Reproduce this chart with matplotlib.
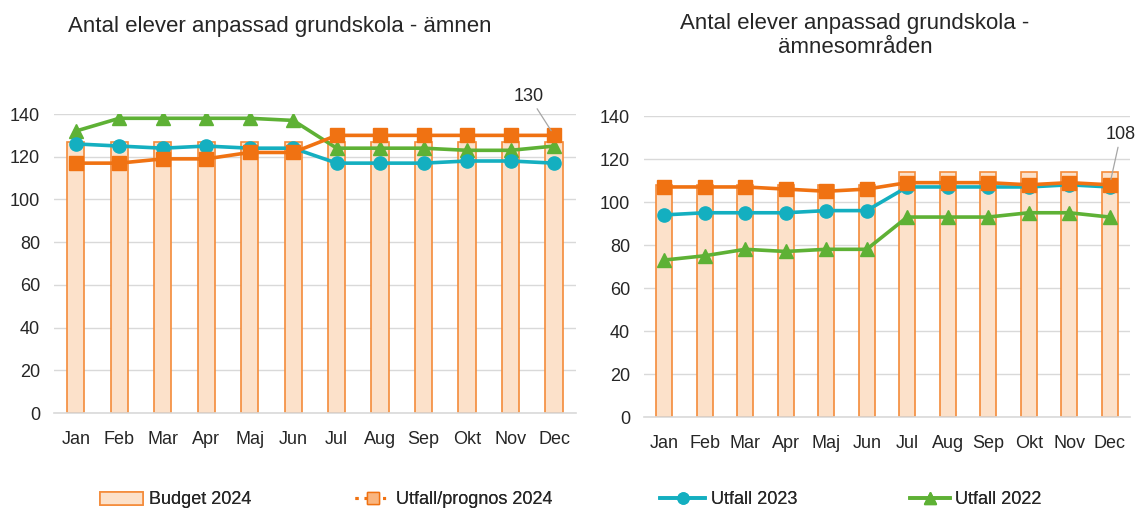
import matplotlib
matplotlib.use("Agg")
import matplotlib.pyplot as plt
from matplotlib.lines import Line2D
from matplotlib.patches import Patch
import numpy as np

plt.rcParams['font.family'] = ['Liberation Sans', 'DejaVu Sans']

months = ["Jan", "Feb", "Mar", "Apr", "Maj", "Jun", "Jul", "Aug", "Sep", "Okt", "Nov", "Dec"]

# Left chart: ämnen
budget_l = [127, 127, 127, 127, 127, 127, 127, 127, 127, 127, 127, 127]
prognos_l = [117, 117, 119, 119, 122, 122, 130, 130, 130, 130, 130, 130]
utfall23_l = [126, 125, 124, 125, 124, 124, 117, 117, 117, 118, 118, 117]
utfall22_l = [132, 138, 138, 138, 138, 137, 124, 124, 124, 123, 123, 125]

# Right chart: ämnesområden
budget_r = [108, 108, 108, 108, 108, 108, 114, 114, 114, 114, 114, 114]
prognos_r = [107, 107, 107, 106, 105, 106, 109, 109, 109, 108, 109, 108]
utfall23_r = [94, 95, 95, 95, 96, 96, 107, 107, 107, 107, 108, 107]
utfall22_r = [73, 75, 78, 77, 78, 78, 93, 93, 93, 95, 95, 93]

yticks = [0, 20, 40, 60, 80, 100, 120, 140]

C_OR = "#F07212"
C_TE = "#14AFC0"
C_GR = "#5EB135"
C_BF = "#FCE1CA"
C_BE = "#F48B3A"
C_GRID = "#D9D9D9"
C_TXT = "#262626"

fig = plt.figure(figsize=(11.37, 5.09), dpi=100)
axL = fig.add_axes([0.0475, 0.1886, 0.459, 0.5874])
axR = fig.add_axes([0.5664, 0.1807, 0.4274, 0.5914])


def draw(ax, budget, prog, u23, u22, label_text, text_off):
    x = np.arange(len(months))
    ax.bar(x, budget, width=0.4, color=C_BF, edgecolor=C_BE, linewidth=1.2, zorder=2)
    ax.plot(x, u22, color=C_GR, lw=2.6, marker="^", ms=9.5, zorder=3)
    ax.plot(x, u23, color=C_TE, lw=2.6, marker="o", ms=9.5, zorder=4)
    ax.plot(x, prog, color=C_OR, lw=2.6, marker="s", ms=9.5, zorder=5)
    ax.set_xlim(-0.5, len(months) - 0.5)
    ax.set_ylim(0, 140)
    ax.set_yticks(yticks)
    ax.set_xticks(x)
    ax.set_xticklabels(months)
    ax.yaxis.grid(True, color=C_GRID, lw=1, zorder=0)
    ax.set_axisbelow(True)
    for s in ["top", "right", "left"]:
        ax.spines[s].set_visible(False)
    ax.spines["bottom"].set_color(C_GRID)
    ax.spines["bottom"].set_linewidth(1.2)
    ax.tick_params(axis="both", length=0, labelsize=13, colors=C_TXT)
    ax.tick_params(axis="x", pad=13)
    ax.tick_params(axis="y", pad=10)
    ax.annotate(str(label_text), xy=(x[-1], prog[-1]), xytext=text_off,
                textcoords="offset points", ha="center", va="bottom",
                fontsize=13, color=C_TXT,
                arrowprops=dict(arrowstyle="-", color="#A6A6A6", lw=0.9,
                                shrinkA=1, shrinkB=4),
                annotation_clip=False, zorder=6)


draw(axL, budget_l, prognos_l, utfall23_l, utfall22_l, prognos_l[-1], (-18, 22))
draw(axR, budget_r, prognos_r, utfall23_r, utfall22_r, prognos_r[-1], (8, 30))

fig.text(0.06, 0.948, "Antal elever anpassad grundskola - ämnen", ha="left", va="center",
         fontsize=16, color=C_TXT)
fig.text(0.752, 0.93, "Antal elever anpassad grundskola -\nämnesområden", ha="center",
         va="center", fontsize=16, color=C_TXT, linespacing=1.15)

handles = [
    Patch(facecolor=C_BF, edgecolor=C_BE, linewidth=1.2),
    Line2D([0], [0], color=C_OR, lw=2.2, ls=(0, (1, 2)), marker="s", ms=8,
           markerfacecolor="#F9B57F", markeredgecolor=C_OR),
    Line2D([0], [0], color=C_TE, lw=2.6, marker="o", ms=8),
    Line2D([0], [0], color=C_GR, lw=2.6, marker="^", ms=8),
]
labels = ["Budget 2024", "Utfall/prognos 2024", "Utfall 2023", "Utfall 2022"]
lefts = [100, 355, 660, 910]
hlens = [2.4, 1.95, 2.5, 2.2]
for h, lab, xl, hl in zip(handles, labels, lefts, hlens):
    leg = fig.legend([h], [lab], loc="center left",
                     bbox_to_anchor=(xl / 1137.0, 1 - 500 / 509.0),
                     frameon=False, fontsize=13, handlelength=hl, handletextpad=0.3,
                     borderaxespad=0, borderpad=0, labelcolor=C_TXT)
    fig.add_artist(leg)

fig.savefig("out.png", dpi=100)
